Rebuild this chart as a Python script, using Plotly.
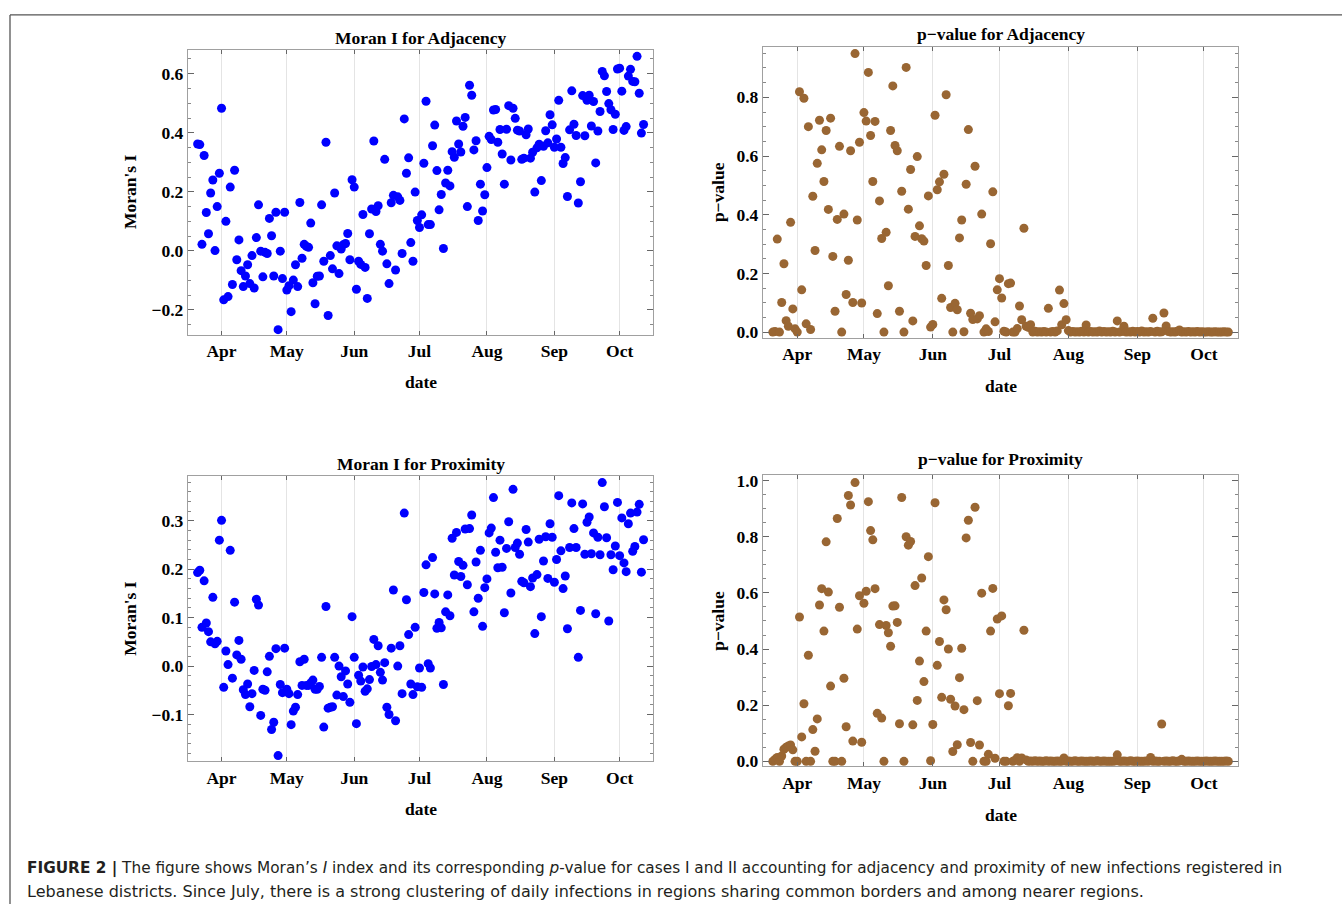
import pandas as pd
import plotly.graph_objects as go

# ---------------- data ----------------
dates = pd.date_range("2020-03-21", "2020-10-12", freq="D")

moran_adjacency = [
    0.362, 0.360, 0.022, 0.323, 0.130, 0.058, 0.196, 0.240, 0.001, 0.150, 0.263,
    0.483, -0.166, 0.100, -0.155, 0.216, -0.114, 0.273, -0.030, 0.037, -0.067,
    -0.121, -0.085, -0.047, -0.111, -0.016, -0.126, 0.045, 0.156, -0.001, -0.088,
    -0.005, -0.009, 0.110, 0.051, -0.085, 0.131, -0.267, -0.001, -0.094, 0.131,
    -0.133, -0.118, -0.206, -0.099, -0.047, -0.121, 0.164, -0.025, 0.022, 0.015,
    0.012, 0.094, -0.108, -0.179, -0.086, -0.085, 0.156, -0.035, 0.368, -0.219,
    -0.016, -0.061, 0.196, 0.017, -0.077, 0.006, 0.021, 0.025, 0.059, -0.030,
    0.241, 0.216, -0.130, -0.035, -0.046, 0.123, -0.056, -0.161, 0.058, 0.142,
    0.372, 0.133, 0.153, 0.022, -0.001, 0.310, -0.044, -0.111, 0.163, 0.188,
    -0.065, 0.183, 0.171, -0.009, 0.447, 0.263, 0.315, 0.028, -0.035, 0.199,
    0.103, 0.079, 0.122, 0.297, 0.507, 0.089, 0.089, 0.356, 0.426, 0.272,
    0.139, 0.191, 0.008, 0.230, 0.273, 0.220, 0.336, 0.317, 0.440, 0.362,
    0.335, 0.422, 0.452, 0.150, 0.561, 0.527, 0.342, 0.373, 0.103, 0.226,
    0.135, 0.190, 0.282, 0.388, 0.377, 0.477, 0.479, 0.368, 0.411, 0.328,
    0.226, 0.412, 0.492, 0.308, 0.483, 0.449, 0.409, 0.406, 0.310, 0.314,
    0.393, 0.413, 0.314, 0.334, 0.199, 0.349, 0.361, 0.238, 0.354, 0.407,
    0.366, 0.461, 0.427, 0.351, 0.379, 0.510, 0.351, 0.296, 0.316, 0.184,
    0.410, 0.542, 0.429, 0.391, 0.162, 0.234, 0.526, 0.390, 0.510, 0.527,
    0.423, 0.506, 0.298, 0.406, 0.472, 0.608, 0.593, 0.540, 0.499, 0.478,
    0.411, 0.463, 0.616, 0.619, 0.541, 0.408, 0.421, 0.592, 0.615, 0.574,
    0.573, 0.659, 0.534, 0.399, 0.428,
]

pvalue_adjacency = [
    0.000, 0.002, 0.317, 0.000, 0.101, 0.233, 0.039, 0.020, 0.374, 0.079, 0.011,
    0.000, 0.819, 0.144, 0.797, 0.028, 0.700, 0.009, 0.463, 0.278, 0.575,
    0.722, 0.621, 0.513, 0.687, 0.418, 0.729, 0.258, 0.071, 0.384, 0.633,
    0.000, 0.402, 0.128, 0.245, 0.618, 0.101, 0.949, 0.382, 0.647, 0.099,
    0.748, 0.719, 0.885, 0.670, 0.513, 0.718, 0.063, 0.447, 0.319, 0.000,
    0.340, 0.158, 0.687, 0.839, 0.636, 0.618, 0.071, 0.480, 0.000, 0.902,
    0.419, 0.554, 0.038, 0.326, 0.598, 0.362, 0.318, 0.310, 0.227, 0.464,
    0.017, 0.026, 0.739, 0.485, 0.512, 0.115, 0.538, 0.809, 0.227, 0.084,
    0.000, 0.098, 0.076, 0.321, 0.382, 0.001, 0.504, 0.690, 0.064, 0.043,
    0.565, 0.045, 0.056, 0.402, 0.000, 0.011, 0.002, 0.301, 0.478, 0.035,
    0.144, 0.182, 0.116, 0.003, 0.000, 0.165, 0.167, 0.000, 0.000, 0.012,
    0.089, 0.042, 0.354, 0.020, 0.016, 0.025,
    0.000, 0.003, 0.000, 0.001, 0.000, 0.002, 0.000, 0.081, 0.000, 0.002,
    0.000, 0.004, 0.143, 0.025, 0.097, 0.042, 0.005, 0.000, 0.002, 0.000,
    0.001, 0.000, 0.003, 0.000, 0.024, 0.000, 0.002, 0.000, 0.001, 0.000,
    0.004, 0.000, 0.002, 0.000, 0.001, 0.000, 0.003, 0.000, 0.038, 0.000,
    0.002, 0.020, 0.000, 0.001, 0.000, 0.003, 0.000, 0.002, 0.000, 0.004,
    0.000, 0.001, 0.000, 0.002, 0.047, 0.000, 0.003, 0.000, 0.001, 0.065,
    0.021, 0.002, 0.000, 0.001, 0.000, 0.003, 0.007, 0.000, 0.001, 0.000,
    0.002, 0.000, 0.001, 0.000, 0.002, 0.000, 0.001, 0.000, 0.000, 0.001,
    0.000, 0.000, 0.001, 0.000, 0.000, 0.000, 0.001, 0.000, 0.000,
]

moran_proximity = [
    0.193, 0.198, 0.080, 0.176, 0.089, 0.071, 0.050, 0.142, 0.046, 0.051, 0.260,
    0.301, -0.044, 0.031, 0.003, 0.239, -0.025, 0.132, 0.023, 0.053, 0.014,
    -0.049, -0.059, -0.037, -0.084, -0.057, -0.009, 0.138, 0.126, -0.102, -0.048,
    -0.050, -0.012, 0.020, -0.131, -0.116, 0.036, -0.185, -0.038, -0.055, 0.037,
    -0.048, -0.057, -0.121, -0.093, -0.085, -0.059, 0.009, -0.040, 0.014, -0.040,
    -0.040, -0.035, -0.029, -0.048, -0.048, -0.042, 0.018, -0.126, 0.123, -0.087,
    -0.085, -0.084, 0.018, -0.060, 0.000, -0.022, -0.063, -0.010, -0.037, -0.075,
    0.102, 0.018, -0.119, -0.019, -0.031, -0.002, -0.052, -0.047, -0.028, -0.001,
    0.055, 0.003, 0.042, -0.013, -0.029, 0.007, -0.085, -0.100, 0.037, 0.157,
    -0.113, 0.000, 0.042, -0.057, 0.316, 0.137, 0.065, -0.037, -0.059, 0.080,
    -0.043, -0.004, -0.044, 0.152, 0.209, 0.005, -0.004, 0.224, 0.149, 0.078,
    0.090, 0.079, -0.038, 0.112, 0.147, 0.104, 0.264, 0.188, 0.276, 0.216,
    0.185, 0.208, 0.283, 0.168, 0.284, 0.312, 0.112, 0.215, 0.140, 0.239,
    0.082, 0.162, 0.180, 0.275, 0.285, 0.348, 0.235, 0.203, 0.260, 0.204,
    0.110, 0.243, 0.298, 0.151, 0.365, 0.245, 0.254, 0.231, 0.175, 0.172,
    0.282, 0.256, 0.164, 0.182, 0.067, 0.189, 0.262, 0.102, 0.217, 0.267,
    0.181, 0.294, 0.266, 0.173, 0.220, 0.352, 0.238, 0.160, 0.186, 0.077,
    0.245, 0.337, 0.284, 0.245, 0.018, 0.115, 0.335, 0.231, 0.297, 0.308,
    0.232, 0.275, 0.108, 0.266, 0.230, 0.379, 0.329, 0.265, 0.093, 0.230,
    0.199, 0.248, 0.338, 0.228, 0.306, 0.213, 0.195, 0.294, 0.316, 0.237,
    0.247, 0.318, 0.334, 0.194, 0.261,
]

pvalue_proximity = [
    0.000, 0.007, 0.014, 0.000, 0.019, 0.043, 0.050, 0.055, 0.058, 0.041, 0.000,
    0.000, 0.514, 0.087, 0.205, 0.000, 0.378, 0.000, 0.113, 0.036, 0.151,
    0.557, 0.615, 0.464, 0.782, 0.603, 0.268, 0.000, 0.000, 0.865, 0.549,
    0.000, 0.296, 0.123, 0.947, 0.913, 0.072, 0.993, 0.471, 0.590, 0.068,
    0.563, 0.606, 0.925, 0.822, 0.789, 0.615, 0.171, 0.487, 0.154, 0.000,
    0.484, 0.458, 0.410, 0.553, 0.554, 0.495, 0.134, 0.940, 0.000, 0.800,
    0.770, 0.783, 0.130, 0.626, 0.217, 0.357, 0.653, 0.284, 0.464, 0.729,
    0.002, 0.131, 0.921, 0.342, 0.427, 0.228, 0.575, 0.540, 0.400, 0.221,
    0.035, 0.197, 0.059, 0.298, 0.403, 0.184, 0.796, 0.859, 0.067, 0.000,
    0.905, 0.216, 0.058, 0.599, 0.000, 0.000, 0.025, 0.464, 0.616, 0.011,
    0.507, 0.241, 0.518, 0.000, 0.000, 0.198, 0.242, 0.000, 0.004, 0.013,
    0.000, 0.012, 0.467, 0.005,
    0.000, 0.001, 0.000, 0.002, 0.000, 0.001, 0.000, 0.000, 0.002, 0.000,
    0.001, 0.000, 0.000, 0.001, 0.000, 0.000, 0.012, 0.000, 0.001, 0.000,
    0.000, 0.002, 0.000, 0.000, 0.001, 0.000, 0.000, 0.000, 0.001, 0.000,
    0.000, 0.002, 0.000, 0.000, 0.001, 0.000, 0.000, 0.000, 0.000, 0.001,
    0.023, 0.000, 0.000, 0.001, 0.000, 0.000, 0.002, 0.000, 0.000, 0.001,
    0.000, 0.000, 0.000, 0.001, 0.000, 0.014, 0.000, 0.001, 0.000, 0.000,
    0.133, 0.000, 0.001, 0.000, 0.000, 0.002, 0.000, 0.000, 0.001, 0.007,
    0.000, 0.000, 0.001, 0.000, 0.000, 0.000, 0.001, 0.000, 0.000, 0.000,
    0.001, 0.000, 0.000, 0.000, 0.001, 0.000, 0.000, 0.000, 0.000, 0.001,
    0.000,
]

month_ticks = ["2020-04-01", "2020-05-01", "2020-06-01", "2020-07-01",
               "2020-08-01", "2020-09-01", "2020-10-01"]
month_labels = ["Apr", "May", "Jun", "Jul", "Aug", "Sep", "Oct"]

panel_titles = ["Moran I for Adjacency", "p\u2212value for Adjacency",
                "Moran I for Proximity", "p\u2212value for Proximity"]
y_titles = ["Moran's I", "p\u2212value", "Moran's I", "p\u2212value"]
x_title = "date"

caption_line1 = ("<b>FIGURE 2 |</b> The figure shows Moran\u2019s <i>I</i> index and its corresponding "
                 "<i>p</i>-value for cases I and II accounting for adjacency and proximity of new "
                 "infections registered in")
caption_line2 = ("Lebanese districts. Since July, there is a strong clustering of daily infections "
                 "in regions sharing common borders and among nearer regions.")

# ---------------- layout geometry ----------------
W, H = 1342, 909
BLUE = "#0000ff"
BROWN = "#996633"
SERIF = "Liberation Serif, Times New Roman, serif"
SANS = "DejaVu Sans, Verdana, sans-serif"
FS = 17.5

# pixel boxes: (left, right, top, bottom)
boxes = [(188, 653, 46, 334), (763, 1238, 43, 337),
         (188, 653, 477, 765), (763, 1238, 476, 770)]
yranges = [(-0.284, 0.682), (-0.019, 0.973), (-0.197, 0.392), (-0.018, 1.019)]
ytickvals = [[-0.2, 0.0, 0.2, 0.4, 0.6], [0.0, 0.2, 0.4, 0.6, 0.8],
             [-0.1, 0.0, 0.1, 0.2, 0.3], [0.0, 0.2, 0.4, 0.6, 0.8, 1.0]]
minor_dt = [0.05, 0.05, 0.02, 0.05]
series = [moran_adjacency, pvalue_adjacency, moran_proximity, pvalue_proximity]
colors = [BLUE, BROWN, BLUE, BROWN]
title_y = [34, 30, 465, 460]
xlab_y = [382, 386, 813, 819]
ytitle_x = [130, 718, 130, 718]

def fx(px):
    return px / W

def fy(py):
    return 1 - py / H

def fmt(v):
    s = f"{abs(v):.1f}"
    return ("\u2212" + s) if v < 0 else s

fig = go.Figure()
annotations = []
for i in range(4):
    n = i + 1
    xa = "x" if n == 1 else f"x{n}"
    ya = "y" if n == 1 else f"y{n}"
    fig.add_trace(go.Scatter(
        x=dates, y=series[i], mode="markers",
        marker=dict(color=colors[i], size=9, line=dict(width=0)),
        xaxis=xa, yaxis=ya, showlegend=False, hoverinfo="x+y"))
    l, r, t, b = boxes[i]
    axis_common = dict(showline=True, linecolor="#a0a0a0", linewidth=1.3, mirror="ticks",
                       ticks="inside", tickcolor="#666666", zeroline=False)
    fig.layout[f"xaxis{'' if n == 1 else n}"] = dict(
        domain=[fx(l), fx(r)], anchor=ya, type="date",
        range=["2020-03-16 14:00", "2020-10-16 08:00"],
        tickmode="array", tickvals=month_ticks, ticktext=month_labels,
        ticklen=4, showgrid=True, gridcolor="#e4e4e4", gridwidth=1,
        tickfont=dict(family=SERIF, size=FS, color="black", weight="bold"),
        **axis_common)
    fig.layout[f"yaxis{'' if n == 1 else n}"] = dict(
        domain=[fy(b), fy(t)], anchor=xa, range=list(yranges[i]),
        tickmode="array", tickvals=ytickvals[i],
        ticktext=[fmt(v) for v in ytickvals[i]], ticklen=6, showgrid=False,
        minor=dict(tickmode="linear", tick0=0, dtick=minor_dt[i], ticks="inside",
                   ticklen=3, tickcolor="#888888", showgrid=False),
        tickfont=dict(family=SERIF, size=FS, color="black", weight="bold"),
        **axis_common)
    cx = (l + r) / 2
    annotations.append(dict(text=panel_titles[i], x=fx(cx), y=fy(title_y[i]),
                            xref="paper", yref="paper", showarrow=False,
                            xanchor="center", yanchor="middle",
                            font=dict(family=SERIF, size=FS, color="black", weight="bold")))
    annotations.append(dict(text=x_title, x=fx(cx), y=fy(xlab_y[i]),
                            xref="paper", yref="paper", showarrow=False,
                            xanchor="center", yanchor="middle",
                            font=dict(family=SERIF, size=FS, color="black", weight="bold")))
    annotations.append(dict(text=y_titles[i], x=fx(ytitle_x[i]), y=fy((t + b) / 2),
                            xref="paper", yref="paper", showarrow=False, textangle=-90,
                            xanchor="center", yanchor="middle",
                            font=dict(family=SERIF, size=FS, color="black", weight="bold")))

annotations.append(dict(text=caption_line1, x=fx(25), y=fy(873), xref="paper", yref="paper",
                        showarrow=False, xanchor="left", yanchor="middle",
                        font=dict(family=SANS, size=15.3, color="#231f20")))
annotations.append(dict(text=caption_line2, x=fx(25), y=fy(896), xref="paper", yref="paper",
                        showarrow=False, xanchor="left", yanchor="middle",
                        font=dict(family=SANS, size=16.0, color="#231f20")))

shapes = [
    dict(type="line", xref="paper", yref="paper", x0=fx(10), x1=1, y0=fy(11), y1=fy(11),
         line=dict(color="#555555", width=1.3)),
    dict(type="line", xref="paper", yref="paper", x0=fx(10), x1=fx(10), y0=fy(11), y1=0,
         line=dict(color="#555555", width=1.3)),
]

fig.update_layout(width=W, height=H, autosize=False,
                  margin=dict(l=0, r=0, t=0, b=0),
                  paper_bgcolor="white", plot_bgcolor="white",
                  annotations=annotations, shapes=shapes, showlegend=False)

fig.write_html("out.html", config={"displayModeBar": False},
               post_script="document.body.style.margin='0';document.body.style.overflow='hidden';")
